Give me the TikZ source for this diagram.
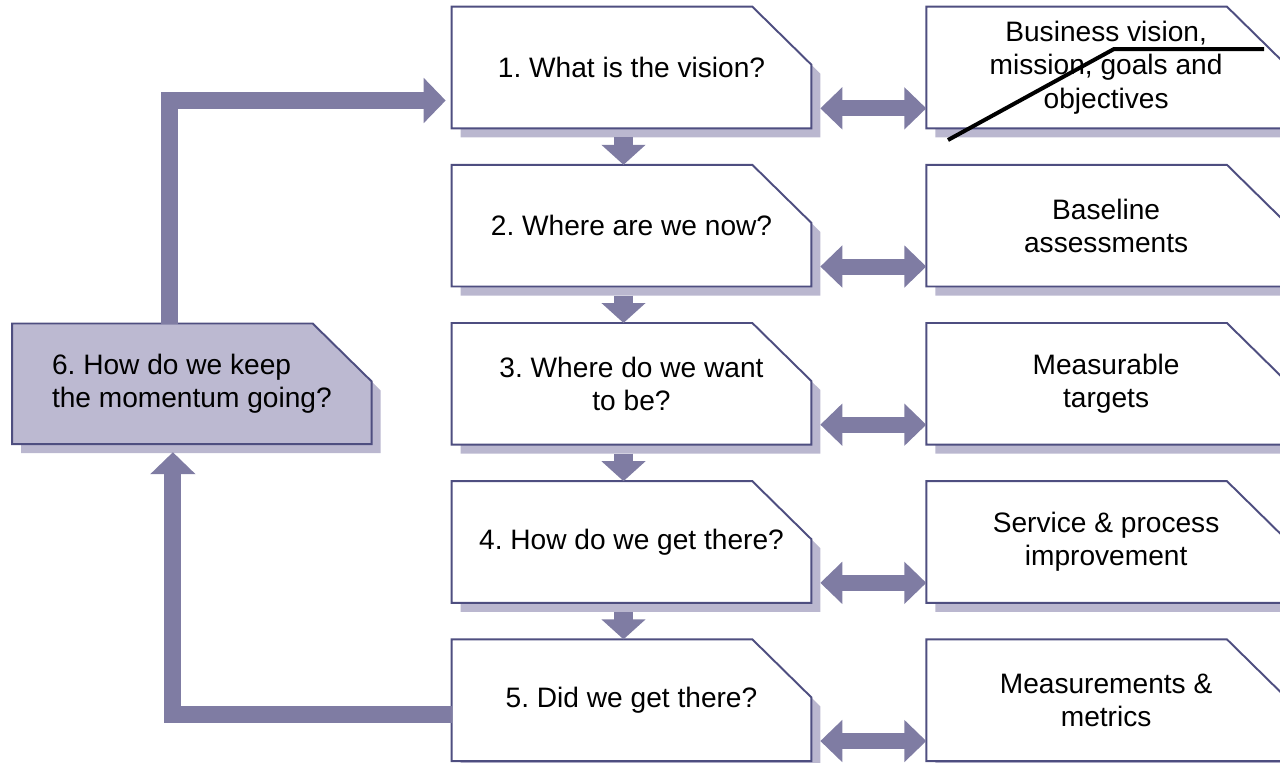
\documentclass[tikz,border=0pt]{standalone}
\usepackage{fontspec}
\setmainfont{Liberation Sans}
\frenchspacing
\usetikzlibrary{positioning,backgrounds,arrows.meta}

\definecolor{boxline}{RGB}{78,78,128}
\definecolor{arrowc}{RGB}{127,124,163}
\definecolor{shadowc}{RGB}{186,183,207}
\definecolor{keepc}{RGB}{188,185,209}

\tikzset{
  node distance=0.73cm and 2.3cm, % gaps between the boxes
  qbox/.style={rectangle, minimum width=7.18cm, minimum height=2.42cm, inner sep=0pt,
    align=center, font=\fontsize{16}{19}\selectfont},
  keepbox/.style={qbox, align=left, minimum height=2.4cm},
  % outline with the upper right corner cut off
  chamfer/.style={insert path={(#1.south west) -- (#1.north west)
    -- ([xshift=-1.18cm]#1.north east) -- ([yshift=-1.16cm]#1.north east)
    -- (#1.south east) -- cycle}},
  outline/.style={draw=boxline, line width=1.1pt},
  downarr/.style={draw=arrowc, line width=0.38cm, -{Triangle[width=0.86cm,length=0.4cm]}},
  dblarr/.style={draw=arrowc, line width=0.32cm,
    {Triangle[width=0.82cm,length=0.44cm]}-{Triangle[width=0.82cm,length=0.44cm]}},
  looparr/.style={draw=arrowc, line width=0.34cm, -{Triangle[width=0.88cm,length=0.44cm]}},
}

\begin{document}
\begin{tikzpicture}[x=0.02cm, y=-0.02cm] % one unit is one pixel
    \useasboundingbox (0,0) rectangle (1280,762);

    % questions
    \node[qbox] (q1) at (631.5,67.5) {1. What is the vision?};
    \node[qbox, below=of q1] (q2) {2. Where are we now?};
    \node[qbox, below=of q2] (q3) {3. Where do we want\\to be?};
    \node[qbox, below=of q3] (q4) {4. How do we get there?};
    \node[qbox, below=of q4] (q5) {5. Did we get there?};
    \node[keepbox, left=1.6cm of q3] (q6) {6. How do we keep\\the momentum going?};

    % answers
    \node[qbox, right=of q1] (a1) {Business vision,\\mission, goals and\\objectives};
    \node[qbox, right=of q2] (a2) {Baseline\\assessments};
    \node[qbox, right=of q3] (a3) {Measurable\\targets};
    \node[qbox, right=of q4] (a4) {Service \& process\\improvement};
    \node[qbox, right=of q5] (a5) {Measurements \&\\metrics};

    \begin{scope}[on background layer]
        \foreach \n/\c in {q1/white,q2/white,q3/white,q4/white,q5/white,q6/keepc,
                           a1/white,a2/white,a3/white,a4/white,a5/white} {
            \fill[shadowc, transform canvas={shift={(9,9)}}, chamfer=\n];
            \path[outline, fill=\c, chamfer=\n];
        }
    \end{scope}

    \foreach \i/\j in {1/2,2/3,3/4,4/5}
        \draw[downarr] ([shift={(-8,9)}]q\i.south) -- ([shift={(-8,0)}]q\j.north);
    \foreach \i in {1,...,5}
        \draw[dblarr] ([shift={(9,-20)}]q\i.south east) -- ([shift={(0,-20)}]a\i.south west);

    \draw[looparr] ([shift={(-22,0)}]q6.north) |- ([shift={(-6,33)}]q1.west);
    \draw[looparr] ([shift={(0,14)}]q5.west) -| ([shift={(-19,8)}]q6.south);

    % stroke across the first answer
    \draw[line width=0.08cm] (948,140) -- (1114,49) -- (1264,49);
\end{tikzpicture}
\end{document}
